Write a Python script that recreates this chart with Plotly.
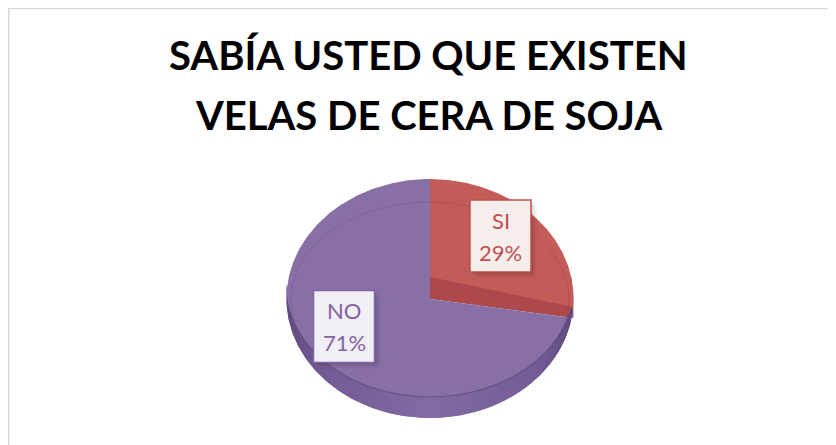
import numpy as np
import plotly.graph_objects as go

# ---------------- data ----------------
labels = ["SI", "NO"]
values = [29, 71]
title_lines = ["SABÍA USTED QUE EXISTEN", "VELAS DE CERA DE SOJA"]

# ---------------- style ----------------
TOP_COLORS = {"SI": "#c35b58", "NO": "#8870a6"}
SIDE_COLORS = {"SI": "#ad494c", "NO": "#7b639a"}
TEXT_COLORS = {"SI": "#c0504d", "NO": "#8064a2"}
BOX_BG = {"SI": "#f6eded", "NO": "#f2eef5"}
FONT = "Lato"

# page offset of the plot div (default body margin)
OFF = 8
W, H = 836 - OFF, 445 - OFF
# projected 3D pie geometry (page pixel space)
CX, CY = 430.0, 277.0
AX, KY, PC = 141.2, -115.6, 0.18
DEPTH = 22.0
RIM_DROP = 11.0
SIDE = 21.0


def rim(theta_deg, dy=0.0):
    t = np.radians(theta_deg)
    u, v = np.sin(t), np.cos(t)
    den = 1 + PC * v
    return CX + AX * u / den, CY + KY * v / den + dy


total = float(sum(values))
fracs = [v / total for v in values]
starts = np.cumsum([0.0] + [f * 360 for f in fracs[:-1]])
ends = starts + np.array([f * 360 for f in fracs])
pcts = [int(round(f * 100)) for f in fracs]

i_si = labels.index("SI")
i_no = labels.index("NO")
s_si, e_si = starts[i_si], ends[i_si]
s_no, e_no = starts[i_no], ends[i_no]

fig = go.Figure()

# 1. raised SI slice: cut face + visible outer side
th = np.linspace(90, e_si, 60)
rx, ry = rim(th)
ry = ry + RIM_DROP * (th - 90) / (e_si - 90)
fig.add_trace(go.Scatter(
    x=np.concatenate([[CX], rx, [CX, CX]]),
    y=np.concatenate([[CY], ry, [CY + DEPTH, CY]]),
    fill="toself", mode="lines", line=dict(width=0),
    fillcolor=SIDE_COLORS["SI"], hoverinfo="skip", showlegend=False))

# 2. NO slice top
th = np.linspace(s_no, e_no, 300)
rx, ry = rim(th)
ex, ey = rim(s_no, RIM_DROP)
fig.add_trace(go.Scatter(
    x=np.concatenate([[CX, ex], rx[1:], [CX]]),
    y=np.concatenate([[CY + DEPTH, ey], ry[1:], [CY + DEPTH]]),
    fill="toself", mode="lines", line=dict(width=0),
    fillcolor=TOP_COLORS["NO"], hoverinfo="skip", showlegend=False, name="NO"))

# 3. NO front side wall
th = np.linspace(s_no + 3, 262, 200)
xo, yo = rim(th)
v = np.cos(np.radians(th))
w = np.sqrt(np.clip(-v, 0, 1))
xi, yi = rim(th)
yi = yi - SIDE * w
fig.add_trace(go.Scatter(
    x=np.concatenate([xo, xi[::-1], xo[:1]]),
    y=np.concatenate([yo, yi[::-1], yo[:1]]),
    fill="toself", mode="lines", line=dict(width=0),
    fillgradient=dict(type="horizontal",
                      colorscale=[[0, "#5e4a80"], [0.12, "#725b93"],
                                  [0.5, "#826aa3"], [0.88, "#735c94"],
                                  [1, "#5e4a80"]]),
    hoverinfo="skip", showlegend=False))
fig.add_trace(go.Scatter(x=xi, y=yi, mode="lines",
                         line=dict(width=1, color="rgba(90,70,120,0.55)"),
                         hoverinfo="skip", showlegend=False))

# 4. SI slice top (raised)
th = np.linspace(s_si, e_si, 200)
rx, ry = rim(th)
fig.add_trace(go.Scatter(
    x=np.concatenate([[CX], rx, [CX]]),
    y=np.concatenate([[CY], ry, [CY]]),
    fill="toself", mode="lines", line=dict(width=0),
    fillcolor=TOP_COLORS["SI"], hoverinfo="skip", showlegend=False, name="SI"))

# 5. faint bevel line
tt = np.radians(np.linspace(0, 360, 300))
fig.add_trace(go.Scatter(x=CX + 139 * np.sin(tt), y=299.5 - 97.5 * np.cos(tt),
                         mode="lines",
                         line=dict(width=1, color="rgba(70,50,90,0.18)"),
                         hoverinfo="skip", showlegend=False))

# ---------------- labels ----------------
label_pos = {"SI": (500.5, 236.0), "NO": (344.0, 326.5)}
BW, BH = 61, 72
LINE_GAP = 32
shapes = [dict(type="rect", xref="paper", yref="paper", x0=0.001, y0=-0.2,
               x1=1.2, y1=0.999, line=dict(color="#d9d9d9", width=1.5),
               fillcolor="rgba(0,0,0,0)", layer="below")]
annotations = []
for i, lab in enumerate(labels):
    lx, ly = label_pos[lab]
    for k, a in enumerate([0.09, 0.05, 0.03]):
        off = 2 + 2 * k
        shapes.append(dict(type="rect", xref="x", yref="y",
                           x0=lx - BW / 2 + off, x1=lx + BW / 2 + off,
                           y0=ly - BH / 2 + off, y1=ly + BH / 2 + off,
                           line=dict(width=0), fillcolor=f"rgba(0,0,0,{a})",
                           layer="above"))
    shapes.append(dict(type="rect", xref="x", yref="y",
                       x0=lx - BW / 2, x1=lx + BW / 2,
                       y0=ly - BH / 2, y1=ly + BH / 2,
                       line=dict(width=1.5, color=TEXT_COLORS[lab]),
                       fillcolor=BOX_BG[lab], layer="above"))
    for j, txt in enumerate([lab, f"{pcts[i]}%"]):
        annotations.append(dict(
            x=lx, y=ly + (j - 0.5) * LINE_GAP, xref="x", yref="y",
            showarrow=False, text=txt,
            font=dict(family=FONT, size=22, color=TEXT_COLORS[lab]),
            xanchor="center", yanchor="middle"))

title_y = [55, 115]
for t, yy in zip(title_lines, title_y):
    annotations.append(dict(
        x=428, y=yy, xref="x", yref="y", showarrow=False, text=f"<b>{t}</b>",
        font=dict(family=FONT, size=40, color="#000000"),
        xanchor="center", yanchor="middle"))

fig.update_layout(
    width=W, height=H, margin=dict(l=0, r=0, t=0, b=0),
    paper_bgcolor="white", plot_bgcolor="white",
    xaxis=dict(range=[OFF, OFF + W], visible=False, fixedrange=True),
    yaxis=dict(range=[OFF + H, OFF], visible=False, fixedrange=True),
    shapes=shapes, annotations=annotations, showlegend=False,
)

fig.write_html("out.html")
